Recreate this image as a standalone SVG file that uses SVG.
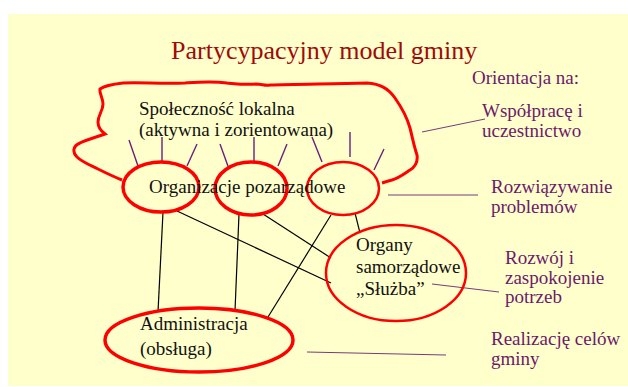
<svg xmlns="http://www.w3.org/2000/svg" width="628" height="387" viewBox="0 0 628 387">
<style>
.bg{fill:#FFFFCC}
.red{fill:none;stroke:#FF0000;stroke-width:3}
.ray{stroke:#6B1F7B;stroke-width:1.4;fill:none}
.lead{stroke:#7A3A7A;stroke-width:1;fill:none}
.conn{stroke:#000;stroke-width:1.2;fill:none}
text{font-family:'Liberation Serif','Times New Roman','DejaVu Serif',serif}
.t{font-size:19px;fill:#111}
.p{font-size:19px;fill:#6B1A6B}
.title{font-size:26px;fill:#A00A0A}
</style>
<rect class="bg" x="8" y="14" width="620" height="372"/>
<text class="title" x="171" y="59" font-family="Liberation Serif, serif">Partycypacyjny model gminy</text>

<g id="cloud">
<path class="red" d="M122,180 C112,176 104,172 98,169 C90,165 82,162 77,157 C72,152 73,146 80,143 C88,139 97,137 105,134 C101,131 98,128 98,122 C98,115 103,111 103,104 C103,98 99,93 100,89 C104,86 114,84 123,83 C140,82 160,84 185,83 C200,82 212,81 227,83 C238,84 248,85 256,84 C262,84 265,86 270,85 C290,84 330,84 367,83 C380,84 388,88 395,98 C402,108 407,117 410,128 C413,140 414,146 417,155 C418,162 415,167 410,170 C404,174 399,178 392,180 C388,181 385,182 382,183"/>
<text class="t" x="139" y="115" font-family="Liberation Serif, serif">Społeczność lokalna</text>
<text class="t" x="139" y="136" font-family="Liberation Serif, serif">(aktywna i zorientowana)</text>
</g>

<g id="rays">
<line class="ray" x1="129" y1="140" x2="138" y2="166"/>
<line class="ray" x1="162" y1="137" x2="162" y2="161"/>
<line class="ray" x1="197" y1="144" x2="187" y2="166"/>
<line class="ray" x1="220" y1="144" x2="229" y2="169"/>
<line class="ray" x1="254" y1="137" x2="254" y2="161"/>
<line class="ray" x1="287" y1="144" x2="278" y2="166"/>
<line class="ray" x1="312" y1="137" x2="322" y2="162"/>
<line class="ray" x1="350" y1="132" x2="350" y2="157"/>
<line class="ray" x1="384" y1="149" x2="374" y2="170"/>
</g>

<g id="connectors">
<line class="conn" x1="163" y1="212" x2="158" y2="312"/>
<line class="conn" x1="177" y1="211" x2="331" y2="283"/>
<line class="conn" x1="239" y1="214" x2="235" y2="311"/>
<line class="conn" x1="263" y1="214" x2="331" y2="258"/>
<line class="conn" x1="331" y1="215" x2="268" y2="317"/>
<line class="conn" x1="355" y1="213" x2="360" y2="233"/>
<line class="lead" x1="422" y1="132" x2="485" y2="119"/>
<line class="lead" x1="388" y1="195" x2="478" y2="195"/>
<line class="lead" x1="432" y1="284" x2="499" y2="292"/>
<line class="lead" x1="307" y1="352" x2="446" y2="355"/>
</g>

<g id="ngo1"><ellipse class="red" cx="161" cy="187" rx="38" ry="25" style="stroke-width:3.5"/></g>
<g id="ngo2"><ellipse class="red" cx="251" cy="188.5" rx="36" ry="26.5" style="stroke-width:3.5"/></g>
<g id="ngo3"><ellipse class="red" cx="343" cy="188.5" rx="36" ry="26.5" style="stroke-width:2.5"/></g>
<g id="ngo-label"><text class="t" x="149" y="193" font-family="Liberation Serif, serif">Organizacje pozarządowe</text></g>

<g id="organy">
<ellipse class="red" cx="396" cy="273" rx="70" ry="48" style="stroke-width:2.5"/>
<text class="t" x="356" y="251" font-family="Liberation Serif, serif">Organy</text>
<text class="t" x="356" y="273" font-family="Liberation Serif, serif">samorządowe</text>
<text class="t" x="356" y="295" font-family="Liberation Serif, serif">„Służba”</text>
</g>

<g id="administracja">
<ellipse class="red" cx="199" cy="340" rx="94" ry="32" style="stroke-width:3.5"/>
<text class="t" x="140" y="330" font-family="Liberation Serif, serif">Administracja</text>
<text class="t" x="140" y="355" font-family="Liberation Serif, serif">(obsługa)</text>
</g>

<g id="orientation" font-family="Liberation Serif, serif">
<text class="p" x="472" y="84">Orientacja na:</text>
<text class="p" x="482" y="117">Współpracę i</text>
<text class="p" x="482" y="137">uczestnictwo</text>
<text class="p" x="491" y="193">Rozwiązywanie</text>
<text class="p" x="491" y="213">problemów</text>
<text class="p" x="505" y="264">Rozwój i</text>
<text class="p" x="505" y="284">zaspokojenie</text>
<text class="p" x="505" y="303">potrzeb</text>
<text class="p" x="491" y="345">Realizację celów</text>
<text class="p" x="491" y="365">gminy</text>
</g>
</svg>
